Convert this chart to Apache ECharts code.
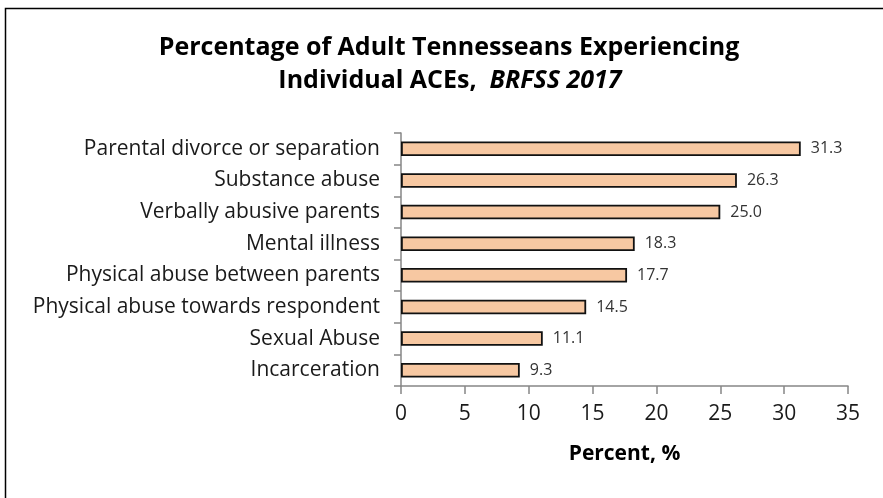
<!DOCTYPE html>
<html>
<head>
<meta charset="utf-8">
<script src="https://cdn.jsdelivr.net/npm/echarts@6/dist/echarts.min.js"></script>
<style>
  html, body { margin: 0; padding: 0; background: #fff; }
  #chart { width: 883px; height: 498px; }
</style>
</head>
<body>
<div id="chart"></div>
<script>
// ACE categories, ordered top to bottom
const categories = [
  'Parental divorce or separation',
  'Substance abuse',
  'Verbally abusive parents',
  'Mental illness',
  'Physical abuse between parents',
  'Physical abuse towards respondent',
  'Sexual Abuse',
  'Incarceration'
];
// Percent of adults reporting each ACE
const percents = [31.3, 26.3, 25.0, 18.3, 17.7, 14.5, 11.1, 9.3];
const xTicks = { min: 0, max: 35, interval: 5 };

const FONT = '"Open Sans", "Noto Sans", sans-serif';
const chart = echarts.init(document.getElementById('chart'), null, { renderer: 'canvas' });

chart.setOption({
  animation: false,
  backgroundColor: '#ffffff',
  graphic: [{
    type: 'rect',
    shape: { x: 5.5, y: 8.5, width: 900, height: 600 },
    style: { fill: 'none', stroke: '#000', lineWidth: 1.5 },
    silent: true
  }, {
    type: 'text',
    x: 449, y: 48,
    style: {
      text: 'Percentage of Adult Tennesseans Experiencing',
      align: 'center', verticalAlign: 'middle',
      font: 'bold 25px ' + FONT, fill: '#000'
    }
  }, {
    type: 'text',
    x: 450, y: 81,
    style: {
      text: '{b|Individual ACEs,\u00a0\u00a0}{i|BRFSS 2017}',
      align: 'center', verticalAlign: 'middle',
      rich: {
        b: { fontFamily: FONT, fontSize: 25, fontWeight: 'bold', fill: '#000' },
        i: { fontFamily: FONT, fontSize: 25, fontWeight: 'bold', fontStyle: 'italic', fill: '#000' }
      }
    }
  }],
  grid: { left: 401, right: 35, top: 133, bottom: 112, containLabel: false },
  xAxis: {
    type: 'value',
    min: xTicks.min, max: xTicks.max, interval: xTicks.interval,
    name: 'Percent, %',
    nameLocation: 'middle',
    nameGap: 58,
    nameTextStyle: { fontFamily: FONT, fontSize: 21, fontWeight: 'bold', color: '#000' },
    axisLine: { show: true, lineStyle: { color: '#868686', width: 1.5 } },
    axisTick: { show: true, length: 8, lineStyle: { color: '#868686', width: 1.5 } },
    axisLabel: { fontFamily: FONT, fontSize: 21, color: '#1a1a1a', margin: 18 },
    splitLine: { show: false }
  },
  yAxis: {
    type: 'category',
    data: categories,
    inverse: true,
    axisLine: { show: true, lineStyle: { color: '#868686', width: 1.5 } },
    axisTick: { show: true, length: 7, lineStyle: { color: '#868686', width: 1.5 } },
    axisLabel: { fontFamily: FONT, fontSize: 21, color: '#1a1a1a', margin: 21 }
  },
  series: [{
    type: 'bar',
    data: percents,
    barCategoryGap: '54%',
    itemStyle: { color: '#F7C8A2', borderColor: '#111', borderWidth: 1.8 },
    label: {
      show: true,
      position: 'right',
      distance: 10,
      fontFamily: FONT,
      fontSize: 16,
      color: '#333',
      formatter: p => p.value.toFixed(1)
    }
  }]
});
</script>
</body>
</html>
